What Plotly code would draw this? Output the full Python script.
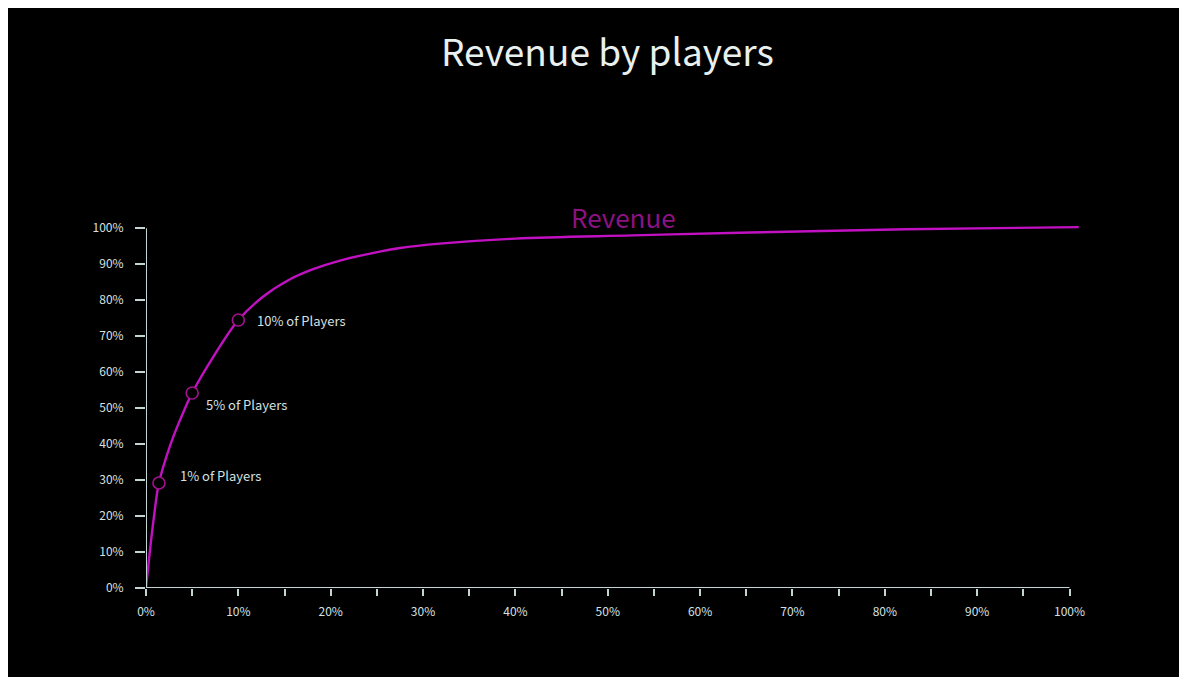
import plotly.graph_objects as go

# Data (percent of players -> cumulative percent of revenue)
players_pct = [0, 0.43, 0.87, 1.4, 2.6, 3.7, 5.0, 7.3, 10.0, 12.7, 15.6, 18.1, 21.0,
               25.3, 27.5, 31.8, 40.0, 52.7, 65.4, 82.3, 101.0]
revenue_pct = [0, 10.5, 20.0, 29.2, 39.5, 46.8, 54.2, 64.3, 74.5, 81.0, 85.8, 88.6, 91.0,
               93.5, 94.5, 95.7, 97.1, 98.0, 98.8, 99.7, 100.3]

marker_x = [1.4, 5.0, 10.0]
marker_y = [29.2, 54.2, 74.5]
marker_labels = ["1% of Players", "5% of Players", "10% of Players"]

x_tickvals = list(range(0, 101, 5))
x_ticktext = [f"{v}%" if v % 10 == 0 else "" for v in x_tickvals]
y_tickvals = list(range(0, 101, 10))
y_ticktext = [f"{v}%" for v in y_tickvals]

LINE = "#c211c2"
AXIS = "#c4d4d4"
TXT = "#d6e0e0"
FONT = "Noto Sans CJK JP"

fig = go.Figure()
fig.add_trace(go.Scatter(x=players_pct, y=revenue_pct, mode="lines",
                         line=dict(color=LINE, width=2.4, shape="spline", smoothing=1.0),
                         hoverinfo="skip", showlegend=False))
fig.add_trace(go.Scatter(x=marker_x, y=marker_y, mode="markers",
                         marker=dict(size=12, color="black", line=dict(color="#a3108f", width=1.6)),
                         showlegend=False, cliponaxis=False))

shifts = [(19, 7), (12, -12), (17, -1)]
for (mx, my, lab), (dx, dy) in zip(zip(marker_x, marker_y, marker_labels), shifts):
    fig.add_annotation(x=mx, y=my, text=lab, showarrow=False, xanchor="left",
                       xshift=dx, yshift=dy, font=dict(family=FONT, size=13, color=TXT))

fig.add_annotation(x=51.65, xref="x", y=1.012, yref="paper", text="Revenue", showarrow=False,
                   yanchor="middle", font=dict(family=FONT, size=26, color="#8c1283"))

# axis lines
fig.add_shape(type="line", xref="x", yref="y", x0=0, x1=100, y0=0, y1=0,
              line=dict(color=AXIS, width=2))
fig.add_shape(type="line", xref="x", yref="y", x0=0, x1=0, y0=0, y1=100,
              line=dict(color=AXIS, width=2))

W, H, L, B = 942, 367, 138, 97

fig.update_layout(
    width=1187, height=677,
    margin=dict(l=L, r=1187 - L - W, t=677 - B - H, b=B),
    paper_bgcolor="black", plot_bgcolor="black",
    title=dict(text="Revenue by players", x=0.505, xanchor="center", y=0.933, yanchor="middle",
               font=dict(family=FONT, size=37, color="#e8f0f0")),
    xaxis=dict(range=[0, 102], showgrid=False, zeroline=False, showline=False,
               tickvals=x_tickvals, ticktext=x_ticktext, ticks="outside", ticklen=7,
               tickwidth=2, tickcolor=AXIS, ticklabelstandoff=6,
               tickfont=dict(family=FONT, size=12, color=TXT)),
    yaxis=dict(range=[0, 102], showgrid=False, zeroline=False, showline=False,
               tickvals=y_tickvals, ticktext=y_ticktext, ticks="outside", ticklen=10,
               tickwidth=2, tickcolor=AXIS, ticklabelstandoff=9,
               tickfont=dict(family=FONT, size=12, color=TXT)),
    showlegend=False,
)

fig.write_html("out.html")
